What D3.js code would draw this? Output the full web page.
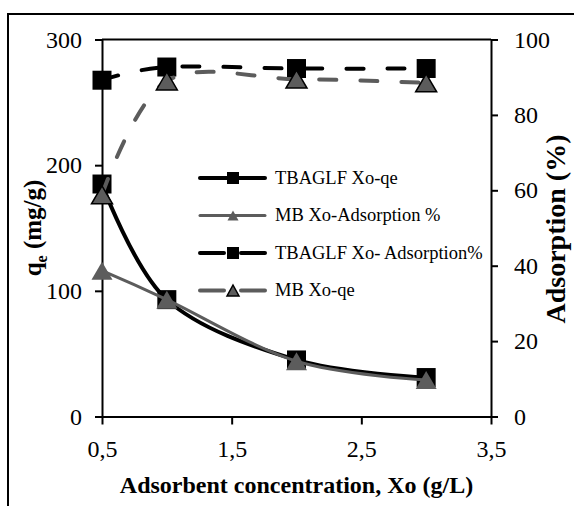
<!DOCTYPE html>
<html>
<head>
<meta charset="utf-8">
<script src="https://cdn.jsdelivr.net/npm/d3@7"></script>
<style>
  html, body { margin: 0; padding: 0; background: #fff; }
  svg { display: block; }
</style>
</head>
<body>
<svg id="chart" width="574" height="506"></svg>
<script>
// Adsorbent dose (g/L)
const dose = [0.5, 1, 2, 3];

// Left-axis series: qe (mg/g)
const tbaglfQe = [185, 93, 45, 31];
const mbAdsorptionLine = [116, 93, 44, 29];

// Right-axis series: adsorption (%)
const tbaglfAdsorption = [89.2, 92.7, 92.3, 92.3];
const mbQeLine = [58.8, 89, 89.5, 88.5];

// Tick values
const xTicks = [0.5, 1.5, 2.5, 3.5];
const yLeftTicks = [0, 100, 200, 300];
const yRightTicks = [0, 20, 40, 60, 80, 100];

const legendLabels = ["TBAGLF Xo-qe", "MB Xo-Adsorption %", "TBAGLF Xo- Adsorption%", "MB Xo-qe"];

const FONT = "Liberation Serif";

const svg = d3.select("#chart");
const plot = { left: 102, right: 491, top: 39.5, bottom: 416.5 };

const x = d3.scaleLinear().domain([0.5, 3.5]).range([plot.left, plot.right]);
const yL = d3.scaleLinear().domain([0, 300]).range([plot.bottom, plot.top]);
const yR = d3.scaleLinear().domain([0, 100]).range([plot.bottom, plot.top]);

const GRAY = "#5c5c5c";
const fmt = d => String(d).replace(".", ",");

// outer frame
svg.append("rect")
  .attr("x", 8).attr("y", 14).attr("width", 640).attr("height", 640)
  .attr("fill", "none").attr("stroke", "#000").attr("stroke-width", 2);

// axes
const axisStyle = g => {
  g.attr("font-family", FONT).attr("font-size", 24);
  g.selectAll("path").attr("stroke", "#000").attr("stroke-width", 2);
  g.selectAll("line").attr("stroke", "#000").attr("stroke-width", 2);
  g.selectAll("text").attr("fill", "#000");
};

svg.append("g")
  .attr("transform", `translate(0,${plot.bottom})`)
  .call(d3.axisBottom(x).tickValues(xTicks).tickFormat(fmt).tickSizeInner(8).tickSizeOuter(0).tickPadding(15))
  .call(axisStyle)
  .call(g => g.selectAll("text").attr("dy", "0.71em"));

svg.append("g")
  .attr("transform", `translate(${plot.left},0)`)
  .call(d3.axisLeft(yL).tickValues(yLeftTicks).tickSizeInner(7).tickSizeOuter(0).tickPadding(13))
  .call(axisStyle);

svg.append("g")
  .attr("transform", `translate(${plot.right},0)`)
  .call(d3.axisRight(yR).tickValues(yRightTicks).tickSizeInner(7).tickSizeOuter(0).tickPadding(16))
  .call(axisStyle);

// top border of the plot area
svg.append("line")
  .attr("x1", plot.left).attr("x2", plot.right)
  .attr("y1", plot.top).attr("y2", plot.top)
  .attr("stroke", "#000").attr("stroke-width", 2);

// marker shapes
const square = s => `M${-s/2},${-s/2}h${s}v${s}h${-s}Z`;
const tri = (w, h) => `M0,${-h/2}L${w/2},${h/2}L${-w/2},${h/2}Z`;

const series = [
  { label: legendLabels[0], values: tbaglfQe, y: yL, color: "#000", width: 4, dash: null,
    marker: square(19), mFill: "#000", mStroke: "none", lMarker: square(12) },
  { label: legendLabels[1], values: mbAdsorptionLine, y: yL, color: GRAY, width: 3, dash: null,
    marker: tri(21, 18), mFill: GRAY, mStroke: "none", lMarker: tri(11, 10) },
  { label: legendLabels[2], values: tbaglfAdsorption, y: yR, color: "#000", width: 4, dash: "17 24",
    marker: square(19), mFill: "#000", mStroke: "none", lMarker: square(12) },
  { label: legendLabels[3], values: mbQeLine, y: yR, color: GRAY, width: 4, dash: "17 24",
    marker: tri(21, 18), mFill: GRAY, mStroke: "#000", lMarker: tri(12, 11) }
];

const plotG = svg.append("g");
series.forEach(s => {
  const pts = dose.map((d, i) => [d, s.values[i]]);
  const line = d3.line()
    .x(d => x(d[0])).y(d => s.y(d[1]))
    .curve(d3.curveCardinal.tension(0));
  plotG.append("path")
    .attr("d", line(pts))
    .attr("fill", "none")
    .attr("stroke", s.color)
    .attr("stroke-width", s.width)
    .attr("stroke-linecap", "round")
    .attr("stroke-dasharray", s.dash);
  plotG.selectAll(null).data(pts).enter().append("path")
    .attr("d", s.marker)
    .attr("transform", d => `translate(${x(d[0])},${s.y(d[1])})`)
    .attr("fill", s.mFill)
    .attr("stroke", s.mStroke)
    .attr("stroke-width", 1.5);
});

// legend
const legend = svg.append("g");
series.forEach((s, i) => {
  const ly = 178 + i * 37.5;
  const row = legend.append("g").attr("transform", `translate(0,${ly})`);
  row.append("line")
    .attr("x1", 200).attr("x2", 265).attr("y1", 0).attr("y2", 0)
    .attr("stroke", s.color).attr("stroke-width", s.width)
    .attr("stroke-linecap", "round")
    .attr("stroke-dasharray", s.dash ? "24 17" : null);
  row.append("path")
    .attr("d", s.lMarker)
    .attr("transform", "translate(233,0)")
    .attr("fill", s.mFill)
    .attr("stroke", s.mStroke)
    .attr("stroke-width", 1.5);
  row.append("text")
    .attr("x", 275).attr("y", 5.5)
    .attr("font-family", FONT)
    .attr("font-size", 18.5)
    .text(s.label);
});

// axis titles
const lt = svg.append("text")
  .attr("transform", "translate(41,228) rotate(-90)")
  .attr("text-anchor", "middle")
  .attr("font-family", FONT)
  .attr("font-size", 25)
  .attr("font-weight", "bold");
lt.append("tspan").text("q");
lt.append("tspan").attr("font-size", 16).attr("dy", 6).text("e");
lt.append("tspan").attr("dy", -6).text(" (mg/g)");

svg.append("text")
  .attr("transform", "translate(565,229) rotate(-90)")
  .attr("text-anchor", "middle")
  .attr("font-family", FONT)
  .attr("font-size", 28)
  .attr("font-weight", "bold")
  .text("Adsorption (%)");

svg.append("text")
  .attr("x", (plot.left + plot.right) / 2).attr("y", 493)
  .attr("text-anchor", "middle")
  .attr("font-family", FONT)
  .attr("font-size", 24)
  .attr("font-weight", "bold")
  .text("Adsorbent concentration, Xo (g/L)");
</script>
</body>
</html>
